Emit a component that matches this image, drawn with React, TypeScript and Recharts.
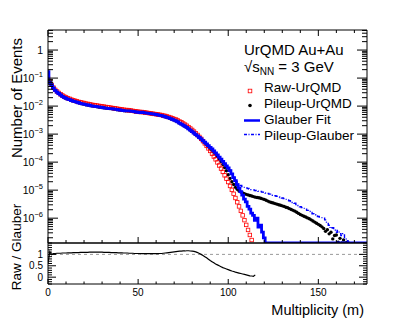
import React from 'react';
import { ComposedChart, Line, XAxis, YAxis, ReferenceLine, Legend } from 'recharts';

const FONT = '"Liberation Sans", Arial, Helvetica, sans-serif';

// ---- data (log10 of "Number of Events", one entry per multiplicity bin m = 0,1,2,...) ----
const rawLog10 = [
  -1.00, -1.12, -1.24, -1.34, -1.42, -1.48, -1.53, -1.58, -1.62, -1.66,
  -1.69, -1.72, -1.74, -1.77, -1.79, -1.81, -1.83, -1.85, -1.86, -1.88,
  -1.89, -1.91, -1.92, -1.93, -1.95, -1.96, -1.97, -1.98, -1.99, -2.00,
  -2.01, -2.02, -2.03, -2.04, -2.05, -2.06, -2.07, -2.08, -2.09, -2.10,
  -2.11, -2.12, -2.13, -2.14, -2.14, -2.15, -2.16, -2.17, -2.18, -2.19,
  -2.20, -2.21, -2.21, -2.22, -2.23, -2.24, -2.25, -2.26, -2.27, -2.28,
  -2.29, -2.30, -2.31, -2.32, -2.34, -2.35, -2.37, -2.39, -2.41, -2.43,
  -2.46, -2.48, -2.51, -2.55, -2.58, -2.62, -2.66, -2.70, -2.75, -2.80,
  -2.85, -2.91, -2.97, -3.03, -3.10, -3.17, -3.25, -3.33, -3.42, -3.51,
  -3.60, -3.70, -3.80, -3.90, -4.01, -4.12, -4.23, -4.35, -4.47, -4.59,
  -4.71, -4.85, -4.99, -5.13, -5.28, -5.43, -5.58, -5.74, -5.90, -6.07,
  -6.24, -6.42, -6.60, -6.78,
];

// bins after the last entry are empty (drawn on the axis floor, as ROOT does)
const glauberLog10 = [
  -0.77, -1.16, -1.24, -1.35, -1.44, -1.50, -1.55, -1.60, -1.65, -1.69,
  -1.72, -1.75, -1.77, -1.80, -1.82, -1.84, -1.86, -1.88, -1.90, -1.92,
  -1.93, -1.95, -1.96, -1.97, -1.99, -2.00, -2.01, -2.02, -2.03, -2.04,
  -2.05, -2.06, -2.07, -2.08, -2.09, -2.09, -2.10, -2.11, -2.12, -2.13,
  -2.14, -2.15, -2.16, -2.17, -2.17, -2.17, -2.18, -2.19, -2.20, -2.21,
  -2.22, -2.23, -2.22, -2.23, -2.24, -2.25, -2.26, -2.27, -2.28, -2.29,
  -2.30, -2.31, -2.33, -2.34, -2.36, -2.38, -2.40, -2.42, -2.45, -2.47,
  -2.50, -2.53, -2.56, -2.61, -2.64, -2.68, -2.72, -2.76, -2.81, -2.86,
  -2.91, -2.96, -3.02, -3.06, -3.12, -3.17, -3.23, -3.29, -3.35, -3.41,
  -3.47, -3.53, -3.60, -3.67, -3.74, -3.82, -3.89, -3.97, -4.05, -4.13,
  -4.21, -4.30, -4.42, -4.55, -4.66, -4.80, -4.92, -5.05, -5.18, -5.32,
  -5.42, -5.58, -5.68, -5.82, -5.90, -6.08, -6.00, -6.32, -6.25, -6.50,
  -6.70,
];

const pileupLog10 = [
  -0.78, -1.15, -1.24, -1.35, -1.44, -1.50, -1.55, -1.60, -1.65, -1.69,
  -1.72, -1.75, -1.77, -1.80, -1.82, -1.84, -1.86, -1.88, -1.90, -1.92,
  -1.93, -1.95, -1.96, -1.97, -1.99, -2.00, -2.01, -2.02, -2.03, -2.04,
  -2.05, -2.06, -2.07, -2.08, -2.09, -2.09, -2.10, -2.11, -2.12, -2.13,
  -2.14, -2.15, -2.16, -2.17, -2.17, -2.17, -2.18, -2.19, -2.20, -2.21,
  -2.22, -2.23, -2.22, -2.23, -2.24, -2.25, -2.26, -2.27, -2.28, -2.29,
  -2.30, -2.31, -2.33, -2.34, -2.36, -2.38, -2.40, -2.42, -2.45, -2.47,
  -2.50, -2.53, -2.56, -2.61, -2.64, -2.68, -2.72, -2.76, -2.81, -2.86,
  -2.91, -2.96, -3.02, -3.07, -3.13, -3.18, -3.24, -3.31, -3.38, -3.45,
  -3.52, -3.58, -3.65, -3.72, -3.80, -3.89, -3.98, -4.08, -4.19, -4.31,
  -4.45, -4.58, -4.70, -4.80, -4.90, -4.97, -5.03, -5.07, -5.10, -5.13,
  -5.15, -5.17, -5.19, -5.21, -5.23, -5.25, -5.26, -5.27, -5.29, -5.31,
  -5.33, -5.36, -5.39, -5.42, -5.44, -5.46, -5.48, -5.50, -5.52, -5.54,
  -5.56, -5.58, -5.61, -5.63, -5.66, -5.69, -5.72, -5.75, -5.79, -5.83,
  -5.87, -5.90, -5.93, -5.96, -5.99, -6.02, -6.06, -6.10, -6.14, -6.18,
  -6.22, -6.26, -6.31, -6.37, -6.47, -6.41, -6.56, -6.50, -6.74, -6.62,
  -6.60, -6.86, -6.72, -6.88, -6.78, -6.88, -6.86, -6.89,
];

const pileupGlauberLog10 = [
  -0.77, -1.16, -1.24, -1.35, -1.44, -1.50, -1.55, -1.60, -1.65, -1.69,
  -1.72, -1.75, -1.77, -1.80, -1.82, -1.84, -1.86, -1.88, -1.90, -1.92,
  -1.93, -1.95, -1.96, -1.97, -1.99, -2.00, -2.01, -2.02, -2.03, -2.04,
  -2.05, -2.06, -2.07, -2.08, -2.09, -2.09, -2.10, -2.11, -2.12, -2.13,
  -2.14, -2.15, -2.16, -2.17, -2.17, -2.17, -2.18, -2.19, -2.20, -2.21,
  -2.22, -2.23, -2.22, -2.23, -2.24, -2.25, -2.26, -2.27, -2.28, -2.29,
  -2.30, -2.31, -2.33, -2.34, -2.36, -2.38, -2.40, -2.42, -2.45, -2.47,
  -2.50, -2.53, -2.56, -2.61, -2.64, -2.68, -2.72, -2.76, -2.81, -2.86,
  -2.91, -2.96, -3.02, -3.06, -3.12, -3.17, -3.23, -3.29, -3.35, -3.41,
  -3.47, -3.53, -3.60, -3.67, -3.74, -3.82, -3.89, -3.97, -4.05, -4.13,
  -4.20, -4.29, -4.40, -4.52, -4.62, -4.71, -4.78, -4.83, -4.87, -4.90,
  -4.92, -4.94, -4.96, -4.98, -4.99, -5.01, -5.02, -5.04, -5.05, -5.07,
  -5.08, -5.10, -5.12, -5.14, -5.16, -5.18, -5.20, -5.22, -5.24, -5.26,
  -5.28, -5.30, -5.33, -5.35, -5.38, -5.41, -5.44, -5.47, -5.51, -5.55,
  -5.59, -5.62, -5.65, -5.68, -5.72, -5.76, -5.80, -5.84, -5.88, -5.91,
  -5.94, -5.96, -5.98, -6.00, -6.06, -6.14, -6.25, -6.36, -6.34, -6.43,
  -6.50, -6.44, -6.55, -6.62, -6.55, -6.72, -6.80, -6.95,
];

// Raw / Glauber ratio, m = 0..115
const ratioValues = [
  0.60, 1.12, 0.99, 1.03, 1.04, 1.05, 1.05, 1.05, 1.06, 1.06,
  1.06, 1.07, 1.07, 1.07, 1.08, 1.08, 1.08, 1.08, 1.09, 1.09,
  1.09, 1.09, 1.09, 1.10, 1.10, 1.10, 1.10, 1.10, 1.10, 1.10,
  1.10, 1.09, 1.09, 1.09, 1.09, 1.08, 1.08, 1.08, 1.08, 1.07,
  1.07, 1.07, 1.06, 1.06, 1.06, 1.05, 1.05, 1.05, 1.04, 1.04,
  1.04, 1.04, 1.03, 1.03, 1.03, 1.03, 1.03, 1.03, 1.03, 1.03,
  1.03, 1.03, 1.04, 1.04, 1.05, 1.06, 1.07, 1.08, 1.09, 1.10,
  1.11, 1.12, 1.13, 1.14, 1.14, 1.15, 1.15, 1.16, 1.16, 1.15,
  1.14, 1.13, 1.11, 1.08, 1.04, 1.00, 0.95, 0.90, 0.85, 0.79,
  0.73, 0.68, 0.63, 0.58, 0.54, 0.50, 0.46, 0.42, 0.39, 0.36,
  0.33, 0.30, 0.27, 0.25, 0.22, 0.20, 0.18, 0.16, 0.14, 0.12,
  0.10, 0.08, 0.06, 0.05, 0.04, 0.10,
];

// ---- axes ----
const M_MAX = 177;
const Y_MIN = 1.3e-7;
const Y_MAX = 5.2;
const R_MIN = -0.3;
const R_MAX = 1.5;

const xTicks = [0, 10, 20, 30, 40, 50, 60, 70, 80, 90, 100, 110, 120, 130, 140, 150, 160, 170];
const xLabelTicks = [0, 50, 100, 150];
const xTickLabels = ['0', '50', '100', '150'];

const yDecadeExponents = [-6, -5, -4, -3, -2, -1, 0];
const yDecadeLabelBase = ['10', '10', '10', '10', '10', '10', '1'];
const yDecadeLabelExp = ['−6', '−5', '−4', '−3', '−2', '−1', ''];
const yMinorMultipliers = [2, 3, 4, 5, 6, 7, 8, 9];

const ratioTicks = [-0.3, -0.2, -0.1, 0, 0.1, 0.2, 0.3, 0.4, 0.5, 0.6, 0.7, 0.8, 0.9, 1, 1.1, 1.2, 1.3, 1.4, 1.5];
const ratioLabelTicks = [0, 0.5, 1];
const ratioTickLabels = ['0', '0.5', '1'];

const titleText = 'UrQMD Au+Au';
const legendLabels = ['Raw-UrQMD', 'Pileup-UrQMD', 'Glauber Fit', 'Pileup-Glauber'];

const yTicks: number[] = (() => {
  const out: number[] = [];
  for (let e = -7; e <= 0; e++) {
    const base = Math.pow(10, e);
    if (base >= Y_MIN && base <= Y_MAX) out.push(base);
    yMinorMultipliers.forEach((k) => {
      const v = k * base;
      if (v >= Y_MIN && v <= Y_MAX) out.push(v);
    });
  }
  return out.sort((a, b) => a - b);
})();

const topRows = Array.from({ length: M_MAX + 1 }, (_, m) => ({
  m,
  raw: m < rawLog10.length ? Math.pow(10, rawLog10[m]) : null,
  glauber: m < glauberLog10.length ? Math.pow(10, glauberLog10[m]) : Y_MIN,
  pileup: m < pileupLog10.length ? Math.pow(10, pileupLog10[m]) : null,
  pileupGlauber: m < pileupGlauberLog10.length ? Math.pow(10, pileupGlauberLog10[m]) : null,
}));

const ratioRows = ratioValues.map((r, m) => ({ m, ratio: r }));

// ---- tick renderers ----
const near = (a: number, b: number) => Math.abs(a - b) < 1e-6;

const logDecadeIndex = (v: number) => yDecadeExponents.findIndex((e) => near(Math.log10(v), e));

const LogTick = (props: any) => {
  const { x, y, payload, side } = props;
  const v = payload.value as number;
  const idx = logDecadeIndex(v);
  const major = idx >= 0;
  const len = major ? 10 : 5;
  const dir = side === 'left' ? 1 : -1;
  return (
    <g>
      <line x1={x} y1={y} x2={x + dir * len} y2={y} stroke="#000" strokeWidth={1} />
      {side === 'left' && major && (
        <text x={x - 5} y={y + 4.2} textAnchor="end" fontSize={10.5} fontFamily={FONT} fill="#000">
          {yDecadeLabelBase[idx]}
          {yDecadeLabelExp[idx] !== '' && (
            <tspan dy={-5.5} fontSize={7.5}>
              {yDecadeLabelExp[idx]}
            </tspan>
          )}
        </text>
      )}
    </g>
  );
};

const XTick = (props: any) => {
  const { x, y, payload, side, majorLen, minorLen, showLabels } = props;
  const v = payload.value as number;
  const idx = xLabelTicks.findIndex((t) => near(t, v));
  const major = idx >= 0;
  const len = major ? majorLen : minorLen;
  const dir = side === 'bottom' ? -1 : 1;
  return (
    <g>
      <line x1={x} y1={y} x2={x} y2={y + dir * len} stroke="#000" strokeWidth={1} />
      {showLabels && major && (
        <text x={x} y={y + 11.5} textAnchor="middle" fontSize={10} fontFamily={FONT} fill="#000">
          {xTickLabels[idx]}
        </text>
      )}
    </g>
  );
};

const RatioTick = (props: any) => {
  const { x, y, payload, side } = props;
  const v = payload.value as number;
  const idx = ratioLabelTicks.findIndex((t) => near(t, v));
  const major = idx >= 0;
  const len = major ? 8 : 4;
  const dir = side === 'left' ? 1 : -1;
  return (
    <g>
      <line x1={x} y1={y} x2={x + dir * len} y2={y} stroke="#000" strokeWidth={1} />
      {side === 'left' && major && (
        <text x={x - 5} y={y + 3.6} textAnchor="end" fontSize={10} fontFamily={FONT} fill="#000">
          {ratioTickLabels[idx]}
        </text>
      )}
    </g>
  );
};

// ---- markers ----
const SquareDot = (props: any) => {
  const { cx, cy, index } = props;
  if (cx == null || cy == null || Number.isNaN(cy)) return <g key={`sq-${index}`} />;
  return (
    <rect
      key={`sq-${index}`}
      x={cx - 1.75}
      y={cy - 1.75}
      width={3.5}
      height={3.5}
      fill="none"
      stroke="#ff0000"
      strokeWidth={0.8}
    />
  );
};

const CircleDot = (props: any) => {
  const { cx, cy, index } = props;
  if (cx == null || cy == null || Number.isNaN(cy)) return <g key={`cd-${index}`} />;
  return <circle key={`cd-${index}`} cx={cx} cy={cy} r={1.7} fill="#000" />;
};

// ---- legend / annotation ----
const LegendBox = () => (
  <svg width={415} height={160} style={{ display: 'block', overflow: 'visible' }}>
    <text x={244} y={54.5} fontSize={15} fontFamily={FONT} fill="#000">
      {titleText}
    </text>
    <text x={244} y={71.5} fontSize={15} fontFamily={FONT} fill="#000">
      √s
      <tspan dy={3} fontSize={10}>
        NN
      </tspan>
      <tspan dy={-3}> = 3 GeV</tspan>
    </text>
    <rect x={248.2} y={89.2} width={3.6} height={3.6} fill="none" stroke="#ff0000" strokeWidth={0.8} />
    <text x={264} y={91.7} fontSize={13.5} fontFamily={FONT} fill="#000">
      {legendLabels[0]}
    </text>
    <circle cx={250} cy={105.5} r={1.8} fill="#000" />
    <text x={264} y={107.8} fontSize={13.5} fontFamily={FONT} fill="#000">
      {legendLabels[1]}
    </text>
    <line x1={244} y1={120.5} x2={260} y2={120.5} stroke="#0000ff" strokeWidth={2.5} />
    <text x={264} y={123.9} fontSize={13.5} fontFamily={FONT} fill="#000">
      {legendLabels[2]}
    </text>
    <line x1={244} y1={134.5} x2={260} y2={134.5} stroke="#0000ff" strokeWidth={1.3} strokeDasharray="3 1.5 1 1.5" />
    <text x={264} y={140} fontSize={13.5} fontFamily={FONT} fill="#000">
      {legendLabels[3]}
    </text>
  </svg>
);

const NumberOfEventsTitle = (p: any) => {
  const vb = p && p.viewBox ? p.viewBox : { x: 0, y: 30 };
  const x = vb.x + 21.5;
  const y = vb.y + 8;
  return (
    <text x={x} y={y} transform={`rotate(-90 ${x} ${y})`} textAnchor="end" fontSize={15} fontFamily={FONT} fill="#000">
      Number of Events
    </text>
  );
};

const RatioTitle = (p: any) => {
  const vb = p && p.viewBox ? p.viewBox : { x: 0, y: 243 };
  const x = vb.x + 20.5;
  const y = vb.y + 4;
  return (
    <text x={x} y={y} transform={`rotate(-90 ${x} ${y})`} textAnchor="middle" fontSize={13.5} fontFamily={FONT} fill="#000">
      Raw / Glauber
    </text>
  );
};

const MultiplicityTitle = (p: any) => {
  const vb = p && p.viewBox ? p.viewBox : { x: 48, y: 284, width: 319 };
  return (
    <text x={vb.x + vb.width - 3} y={vb.y + 30.5} textAnchor="end" fontSize={14.5} fontFamily={FONT} fill="#000">
      Multiplicity (m)
    </text>
  );
};

const layer: React.CSSProperties = { position: 'absolute', left: 0, top: 0 };

export default function App() {
  return (
    <div style={{ position: 'absolute', left: 0, top: 0, width: 415, height: 325, background: '#fff' }}>
      {/* markers layer (drawn underneath the histogram lines) */}
      <div style={layer}>
        <ComposedChart width={415} height={325} data={topRows} margin={{ top: 30, right: 48, bottom: 82, left: 48 }}>
          <XAxis xAxisId="b" dataKey="m" type="number" domain={[0, M_MAX]} allowDataOverflow hide />
          <YAxis yAxisId="l" type="number" scale="log" domain={[Y_MIN, Y_MAX]} allowDataOverflow hide />
          <Line
            xAxisId="b"
            yAxisId="l"
            dataKey="pileup"
            stroke="none"
            dot={CircleDot}
            activeDot={false}
            isAnimationActive={false}
          />
          <Line
            xAxisId="b"
            yAxisId="l"
            dataKey="raw"
            stroke="none"
            dot={SquareDot}
            activeDot={false}
            isAnimationActive={false}
          />
        </ComposedChart>
      </div>
      {/* frame, histogram lines and legend */}
      <div style={layer}>
        <ComposedChart width={415} height={325} data={topRows} margin={{ top: 20, right: 0, bottom: 0, left: 0 }}>
          <XAxis
            xAxisId="b"
            dataKey="m"
            type="number"
            domain={[0, M_MAX]}
            allowDataOverflow
            ticks={xTicks}
            interval={0}
            height={82}
            tickSize={0}
            tickMargin={0}
            tickLine={false}
            axisLine={{ stroke: '#000', strokeWidth: 1.5 }}
            tick={(p: any) => <XTick {...p} side="bottom" majorLen={6} minorLen={3} showLabels={false} />}
          />
          <XAxis
            xAxisId="t"
            orientation="top"
            dataKey="m"
            type="number"
            domain={[0, M_MAX]}
            allowDataOverflow
            ticks={xTicks}
            interval={0}
            height={10}
            tickSize={0}
            tickMargin={0}
            tickLine={false}
            axisLine={{ stroke: '#000', strokeWidth: 1 }}
            tick={(p: any) => <XTick {...p} side="top" majorLen={6} minorLen={3} showLabels={false} />}
          />
          <YAxis
            yAxisId="l"
            type="number"
            scale="log"
            domain={[Y_MIN, Y_MAX]}
            allowDataOverflow
            ticks={yTicks}
            interval={0}
            width={48}
            tickSize={0}
            tickMargin={0}
            tickLine={false}
            axisLine={{ stroke: '#000', strokeWidth: 1 }}
            tick={(p: any) => <LogTick {...p} side="left" />}
            label={NumberOfEventsTitle}
          />
          <YAxis
            yAxisId="r"
            orientation="right"
            type="number"
            scale="log"
            domain={[Y_MIN, Y_MAX]}
            allowDataOverflow
            ticks={yTicks}
            interval={0}
            width={48}
            tickSize={0}
            tickMargin={0}
            tickLine={false}
            axisLine={{ stroke: '#000', strokeWidth: 1 }}
            tick={(p: any) => <LogTick {...p} side="right" />}
          />
          <Line
            xAxisId="b"
            yAxisId="l"
            dataKey="glauber"
            type="step"
            stroke="#0000ff"
            strokeWidth={2.8}
            dot={false}
            activeDot={false}
            isAnimationActive={false}
          />
          <Line
            xAxisId="b"
            yAxisId="l"
            dataKey="pileupGlauber"
            type="step"
            stroke="#0000ff"
            strokeWidth={1.4}
            strokeDasharray="4 2 1 2"
            dot={false}
            activeDot={false}
            isAnimationActive={false}
          />
          <Legend
            layout="vertical"
            align="center"
            verticalAlign="middle"
            content={() => <LegendBox />}
            wrapperStyle={{ position: 'absolute', left: 0, top: 0, width: 415, height: 160, pointerEvents: 'none' }}
          />
        </ComposedChart>
      </div>
      {/* ratio panel */}
      <div style={layer}>
        <ComposedChart width={415} height={325} data={ratioRows} margin={{ top: 243, right: 0, bottom: 0, left: 0 }}>
          <XAxis
            xAxisId="b"
            dataKey="m"
            type="number"
            domain={[0, M_MAX]}
            allowDataOverflow
            ticks={xTicks}
            interval={0}
            height={41}
            tickSize={0}
            tickMargin={0}
            tickLine={false}
            axisLine={{ stroke: '#000', strokeWidth: 1 }}
            tick={(p: any) => <XTick {...p} side="bottom" majorLen={5} minorLen={2.5} showLabels={true} />}
            label={MultiplicityTitle}
          />
          <YAxis
            yAxisId="l"
            type="number"
            domain={[R_MIN, R_MAX]}
            allowDataOverflow
            ticks={ratioTicks}
            interval={0}
            width={48}
            tickSize={0}
            tickMargin={0}
            tickLine={false}
            axisLine={{ stroke: '#000', strokeWidth: 1 }}
            tick={(p: any) => <RatioTick {...p} side="left" />}
            label={RatioTitle}
          />
          <YAxis
            yAxisId="r"
            orientation="right"
            type="number"
            domain={[R_MIN, R_MAX]}
            allowDataOverflow
            ticks={ratioTicks}
            interval={0}
            width={48}
            tickSize={0}
            tickMargin={0}
            tickLine={false}
            axisLine={{ stroke: '#000', strokeWidth: 1 }}
            tick={(p: any) => <RatioTick {...p} side="right" />}
          />
          <ReferenceLine xAxisId="b" yAxisId="l" y={1} stroke="#999" strokeWidth={1} strokeDasharray="3 3" />
          <Line
            xAxisId="b"
            yAxisId="l"
            dataKey="ratio"
            type="linear"
            stroke="#000"
            strokeWidth={1.2}
            dot={false}
            activeDot={false}
            isAnimationActive={false}
          />
        </ComposedChart>
      </div>
    </div>
  );
}
